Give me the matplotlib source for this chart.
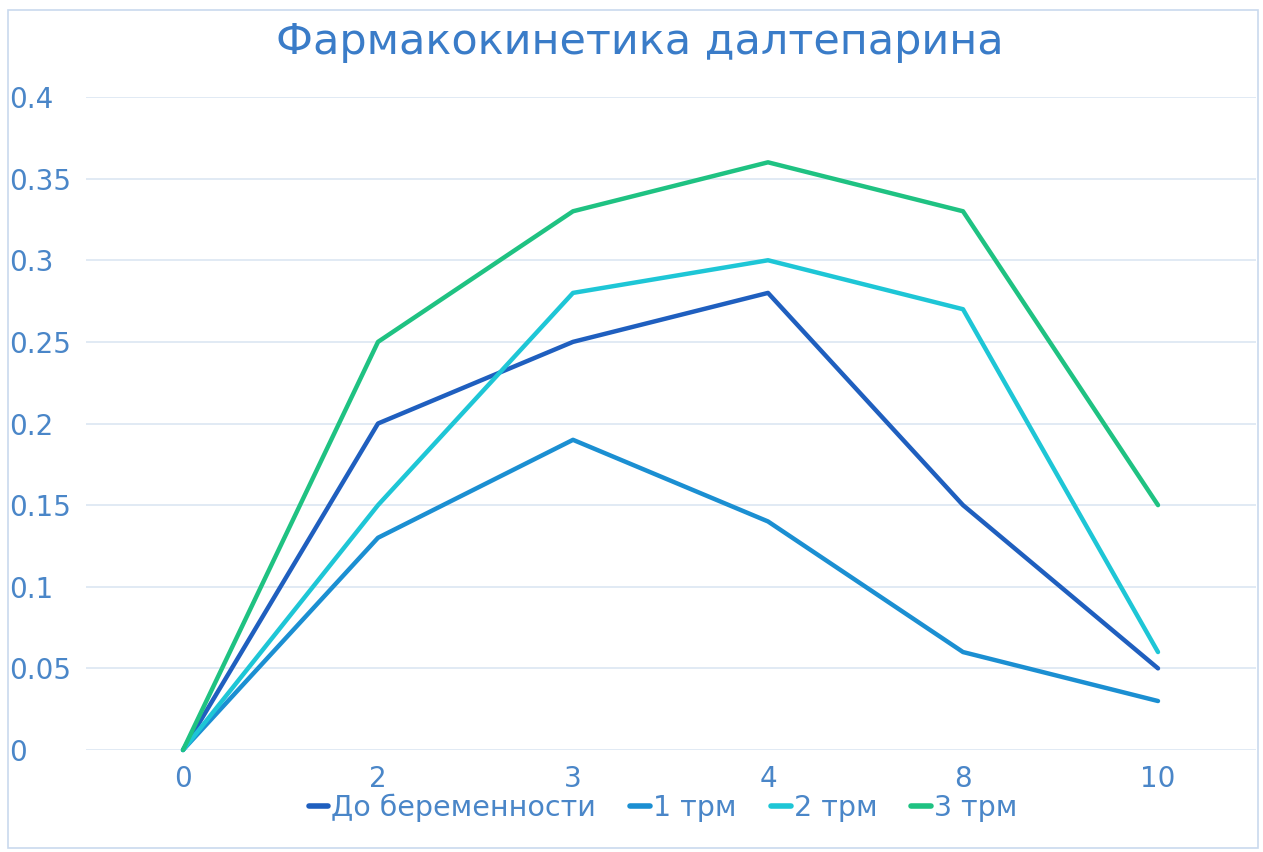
import matplotlib
matplotlib.use("Agg")
import matplotlib.pyplot as plt
from matplotlib.patches import Rectangle

categories = ["0", "2", "3", "4", "8", "10"]
s_before = [0, 0.20, 0.25, 0.28, 0.15, 0.05]
s_tr1 = [0, 0.13, 0.19, 0.14, 0.06, 0.03]
s_tr2 = [0, 0.15, 0.28, 0.30, 0.27, 0.06]
s_tr3 = [0, 0.25, 0.33, 0.36, 0.33, 0.15]
series_names = ["До беременности", "1 трм", "2 трм", "3 трм"]
yticks = [0, 0.05, 0.1, 0.15, 0.2, 0.25, 0.3, 0.35, 0.4]
ytick_labels = ["0", "0.05", "0.1", "0.15", "0.2", "0.25", "0.3", "0.35", "0.4"]

colors = ["#1f5fbf", "#1b8fd2", "#1ec6d6", "#1fc282"]
text_color = "#4a86c8"

plt.rcParams["font.family"] = ["DejaVu Sans"]

W, H = 1263, 852
fig = plt.figure(figsize=(W / 100, H / 100), dpi=100)
fig.patch.set_facecolor("white")
fig.patches.append(Rectangle((8 / W, 4 / H), 1250 / W, 838 / H, transform=fig.transFigure,
                             fill=False, edgecolor="#c9d9ee", linewidth=1.2))

ax = fig.add_axes([85.5 / W, 1 - 750 / H, 1170 / W, (750 - 97) / H])
x = list(range(len(categories)))
for vals, name, c in zip([s_before, s_tr1, s_tr2, s_tr3], series_names, colors):
    ax.plot(x, vals, color=c, linewidth=3.2, label=name, clip_on=False,
            solid_capstyle="round", solid_joinstyle="round", zorder=3)

ax.set_xlim(-0.5, len(categories) - 0.5)
ax.set_ylim(0, 0.4)
ax.set_yticks(yticks)
ax.set_yticklabels(ytick_labels)
ax.set_xticks(x)
ax.set_xticklabels(categories)
for lab in ax.get_yticklabels():
    lab.set_horizontalalignment("left")
ax.tick_params(axis="y", length=0, pad=55, labelsize=20, labelcolor=text_color)
ax.tick_params(axis="x", length=0, pad=11, labelsize=20, labelcolor=text_color)
ax.grid(axis="y", color="#dce6f2", linewidth=1.2)
ax.set_axisbelow(True)
for sp in ax.spines.values():
    sp.set_visible(False)

fig.text(640 / W, 1 - 42 / H, "Фармакокинетика далтепарина", ha="center", va="center",
         fontsize=31, color="#3a7cc8")

leg = fig.legend(loc="center", bbox_to_anchor=(663 / W, 1 - 808 / H), ncol=4, frameon=False,
                 fontsize=20.5, handlelength=0.7, handletextpad=0.1, columnspacing=1.2,
                 labelcolor=text_color)
for h in leg.get_lines():
    h.set_linewidth(4)

fig.savefig("out.png", dpi=100, facecolor="white")
